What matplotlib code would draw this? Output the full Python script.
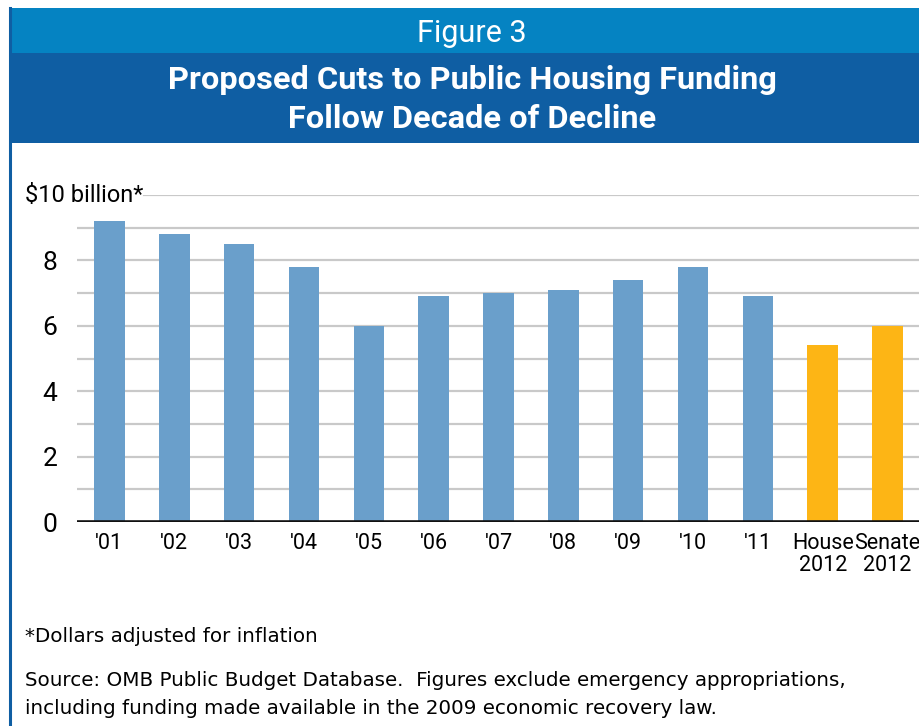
import matplotlib
matplotlib.use('Agg')
import matplotlib.pyplot as plt
from matplotlib.patches import Rectangle
from matplotlib.lines import Line2D
import matplotlib.transforms as mtransforms

# chart data
categories = ["'01", "'02", "'03", "'04", "'05", "'06", "'07", "'08", "'09", "'10", "'11",
              "House\n2012", "Senate\n2012"]
funding = [9.2, 8.8, 8.5, 7.8, 6.0, 6.9, 7.0, 7.1, 7.4, 7.8, 6.9, 5.4, 6.0]
is_proposal = [False] * 11 + [True, True]
ytick_values = [0, 2, 4, 6, 8]
ytick_labels = ['0', '2', '4', '6', '8']

narrow = ['Roboto', 'DejaVu Sans']
light_blue = '#0583C2'
dark_blue = '#0F5EA3'
bar_blue = '#6A9FCB'
bar_gold = '#FDB515'

W, H = 920, 726
fig = plt.figure(figsize=(W / 100, H / 100), dpi=100)
fig.patch.set_facecolor('white')

# header bands
fig.add_artist(Rectangle((10 / W, 1 - 53 / H), 1 - 10 / W, 45 / H, transform=fig.transFigure,
                         facecolor=light_blue, edgecolor='none'))
fig.add_artist(Rectangle((10 / W, 1 - 143 / H), 1 - 10 / W, 90 / H, transform=fig.transFigure,
                         facecolor=dark_blue, edgecolor='none'))
# left border line
fig.add_artist(Line2D([10.5 / W, 10.5 / W], [0, 1 - 8 / H], transform=fig.transFigure,
                      color=dark_blue, linewidth=2.2))

fig.text(0.513, 1 - 33 / H, 'Figure 3', color='white', fontsize=22, ha='center', va='center',
         family=narrow)
fig.text(0.513, 1 - 80 / H, 'Proposed Cuts to Public Housing Funding', color='white', fontsize=23.4,
         fontweight='bold', ha='center', va='center', family=narrow)
fig.text(0.513, 1 - 119 / H, 'Follow Decade of Decline', color='white', fontsize=23.4,
         fontweight='bold', ha='center', va='center', family=narrow)

# chart area
ax = fig.add_axes([77 / W, 1 - 522 / H, 1 - 77 / W, (522 - 195) / H])
ax.set_xlim(-0.5, len(categories) - 0.5)
ax.set_ylim(0, 10)
for s in ax.spines.values():
    s.set_visible(False)

for v in range(1, 11):
    xmin = 0.08 if v == 10 else 0
    ax.axhline(v, xmin=xmin, xmax=1, color='#C9C9C9', linewidth=1.6, zorder=1)
ax.axhline(0, color='#111111', linewidth=2.6, zorder=3)

colors = [bar_gold if p else bar_blue for p in is_proposal]
ax.bar(range(len(categories)), funding, width=0.47, color=colors, zorder=2)

ax.set_yticks(ytick_values)
ax.set_yticklabels(ytick_labels, family=narrow, fontsize=19)
ax.set_xticks(range(len(categories)))
ax.set_xticklabels(categories, family=narrow, fontsize=15.5, linespacing=1.05)
ax.tick_params(length=0, pad=14)
ax.tick_params(axis='x', pad=8)

trans = mtransforms.blended_transform_factory(ax.transAxes, ax.transData)
ax.text(-52 / 843, 10, '$10 billion*', transform=trans, family=narrow, fontsize=17,
        ha='left', va='center')

# notes
fig.text(25 / W, 1 - 636 / H, '*Dollars adjusted for inflation', fontsize=14.3, va='center',
         family=['DejaVu Sans'])
fig.text(25 / W, 1 - 681 / H,
         'Source: OMB Public Budget Database.  Figures exclude emergency appropriations,',
         fontsize=14.3, va='center', family=['DejaVu Sans'])
fig.text(25 / W, 1 - 708 / H,
         'including funding made available in the 2009 economic recovery law.',
         fontsize=14.3, va='center', family=['DejaVu Sans'])

fig.savefig('out.png', dpi=100)
